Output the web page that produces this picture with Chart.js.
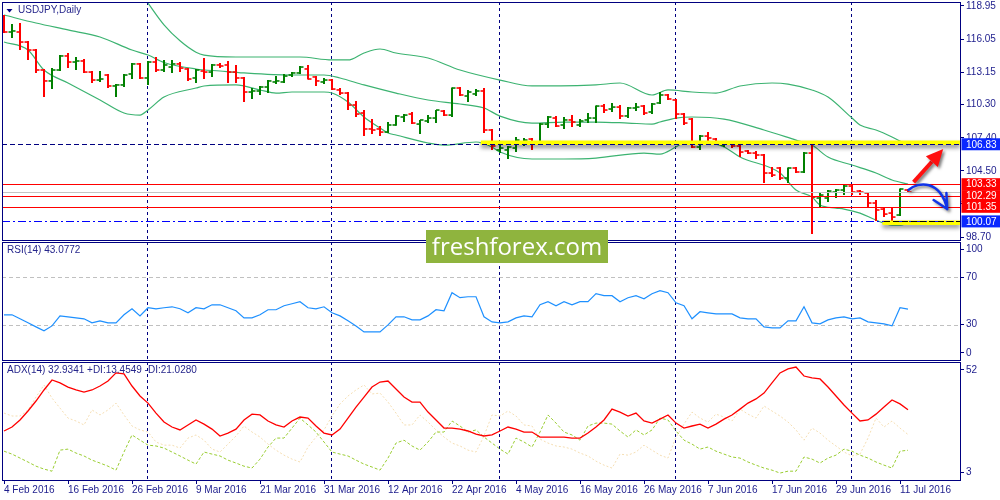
<!DOCTYPE html>
<html>
<head>
<meta charset="utf-8">
<title>USDJPY Daily</title>
<script src="https://cdn.jsdelivr.net/npm/chart.js@4.4.1/dist/chart.umd.min.js"></script>
<style>
  html, body { margin: 0; padding: 0; background: #fff; }
  #wrap { position: relative; width: 1000px; height: 500px; overflow: hidden; }
  #wrap canvas { position: absolute; left: 0; }
  #wm { position: absolute; left: 426px; top: 230px; width: 182px; height: 33px; background: #8fb43e;
        color: #fff; font: 24px 'Open Sans', sans-serif; line-height: 32px; text-align: center; }
</style>
</head>
<body>
<div id="wrap">
  <canvas id="pricePane" width="1000" height="242" style="top:0"></canvas>
  <canvas id="rsiPane" width="1000" height="121" style="top:241px"></canvas>
  <canvas id="adxPane" width="1000" height="139" style="top:361px"></canvas>
  <div id="wm">freshforex.com</div>
</div>
<script>
// one label every 8 daily bars, first bar = 4 Feb 2016
const dates = ['4 Feb 2016', '16 Feb 2016', '26 Feb 2016', '9 Mar 2016', '21 Mar 2016', '31 Mar 2016',
  '12 Apr 2016', '22 Apr 2016', '4 May 2016', '16 May 2016', '26 May 2016', '7 Jun 2016',
  '17 Jun 2016', '29 Jun 2016', '11 Jul 2016'];
const monthStarts = [18, 41, 62, 84, 106];

const open = [117.02, 116.67, 116.67, 115.79, 115.09, 113.34, 112.38, 113.34, 114.57, 114.04,
  114.13, 113.16, 112.46, 112.90, 111.94, 112.03, 112.99, 113.87, 112.64, 114.04,
  113.34, 113.60, 113.87, 113.43, 112.64, 113.25, 113.16, 113.78, 113.78, 113.16,
  112.64, 111.41, 111.50, 111.85, 112.29, 112.29, 112.90, 113.08, 113.43, 112.73,
  112.29, 112.46, 111.59, 111.32, 110.27, 109.57, 108.17, 108.17, 107.90, 108.52,
  109.22, 109.48, 108.60, 108.87, 109.13, 109.74, 109.39, 111.76, 111.06, 111.24,
  111.50, 108.08, 106.33, 106.33, 106.50, 107.03, 107.29, 107.03, 108.60, 109.13,
  108.52, 108.96, 108.52, 108.96, 109.13, 110.18, 109.92, 110.09, 109.31, 110.01,
  110.18, 109.66, 110.45, 111.15, 110.71, 109.48, 109.04, 106.59, 107.55, 107.29,
  106.76, 106.94, 106.68, 106.24, 106.06, 105.89, 104.31, 104.75, 103.87, 104.75,
  104.40, 106.06, 102.12, 102.12, 102.64, 102.82, 103.17, 102.73, 102.56, 101.68,
  101.15, 100.80, 100.63, 102.82];
const high = [118.16, 117.37, 117.46, 115.88, 115.18, 113.43, 113.51, 114.65, 114.83, 114.48,
  114.30, 113.25, 113.25, 112.99, 112.11, 112.99, 113.95, 113.95, 114.13, 114.48,
  114.22, 114.22, 114.04, 113.51, 113.43, 114.39, 113.87, 113.95, 114.13, 113.78,
  112.73, 111.76, 111.94, 112.46, 112.81, 112.99, 113.16, 113.69, 113.78, 112.81,
  112.64, 112.55, 111.76, 111.41, 110.62, 109.83, 109.04, 108.43, 108.78, 109.39,
  109.48, 109.66, 108.96, 109.39, 109.83, 109.83, 111.80, 111.85, 111.59, 111.67,
  111.76, 108.17, 106.76, 106.68, 107.47, 107.38, 107.38, 108.69, 109.31, 109.31,
  109.22, 109.39, 109.04, 109.57, 110.22, 110.36, 110.45, 110.27, 110.09, 110.45,
  110.27, 110.45, 111.41, 111.24, 110.80, 109.57, 109.13, 107.64, 107.90, 107.38,
  107.11, 107.03, 106.94, 106.33, 106.24, 105.97, 104.84, 104.84, 104.80, 104.84,
  106.15, 106.94, 102.56, 102.82, 102.91, 103.26, 103.34, 102.82, 102.64, 101.94,
  101.33, 101.33, 102.95, 102.91];
const low = [116.58, 116.14, 115.09, 114.22, 113.08, 110.97, 111.67, 113.25, 113.51, 113.34,
  113.08, 112.20, 112.29, 111.76, 110.97, 111.85, 112.55, 112.55, 112.03, 113.16,
  113.16, 113.08, 113.16, 112.38, 112.20, 112.55, 112.73, 113.51, 112.20, 112.20,
  110.53, 110.80, 111.15, 111.32, 112.11, 112.20, 112.73, 113.00, 112.50, 111.94,
  112.11, 111.59, 111.15, 109.83, 109.22, 107.55, 107.73, 107.55, 107.82, 108.45,
  108.78, 108.60, 107.73, 108.69, 108.69, 109.31, 109.22, 111.06, 110.53, 111.06,
  107.82, 106.33, 106.06, 105.54, 106.15, 106.68, 106.33, 107.00, 108.25, 108.34,
  108.17, 108.34, 108.34, 108.69, 108.69, 109.57, 109.66, 109.04, 109.13, 109.74,
  109.39, 109.48, 110.36, 110.71, 109.04, 108.52, 106.50, 106.33, 107.11, 106.76,
  106.59, 106.50, 105.71, 105.97, 105.54, 103.43, 103.96, 103.70, 103.43, 104.31,
  104.31, 98.96, 101.33, 101.77, 102.12, 102.38, 102.38, 102.38, 101.33, 100.10,
  100.45, 100.01, 100.54, 102.56];
const close = [116.67, 116.76, 115.79, 115.09, 113.34, 112.38, 113.34, 114.57, 114.04, 114.13,
  113.16, 112.46, 112.55, 111.94, 112.03, 112.90, 113.87, 112.64, 114.04, 113.34,
  113.78, 113.87, 113.51, 112.55, 113.34, 113.16, 113.78, 113.69, 113.16, 112.64,
  111.41, 111.50, 111.85, 112.38, 112.38, 112.81, 113.08, 113.60, 112.55, 112.38,
  112.46, 111.67, 111.32, 110.27, 109.48, 108.17, 108.08, 107.90, 108.52, 109.31,
  109.39, 108.69, 108.96, 109.13, 109.83, 109.39, 111.76, 111.15, 111.41, 111.50,
  108.08, 106.68, 106.50, 106.59, 107.20, 107.20, 107.03, 108.60, 109.22, 108.43,
  108.96, 108.78, 108.87, 109.13, 110.18, 109.83, 110.09, 109.31, 110.01, 110.09,
  109.57, 110.36, 111.15, 110.80, 109.48, 108.69, 106.59, 107.55, 107.38, 107.03,
  107.03, 106.68, 106.15, 106.06, 105.89, 104.31, 104.13, 103.87, 104.75, 104.40,
  106.06, 102.20, 102.38, 102.73, 102.82, 103.17, 102.64, 102.64, 101.68, 101.07,
  100.71, 100.45, 102.91, 102.64];

// Bollinger bands as [bar, price]
const bbUpper = [[18, 119.2], [20, 117.3], [22, 115.9], [24, 114.9], [25, 114.65], [29, 114.48],
  [37, 114.48], [41, 114.22], [43, 114.22], [45, 114.83], [47, 115.18], [49, 114.83], [53, 114.39],
  [57, 113.34], [62, 112.46], [66, 111.94], [74, 112.03], [77, 112.2], [81, 111.15], [83, 111.59],
  [86, 111.41], [89, 111.32], [92, 111.94], [96, 112.2], [98, 112.11], [101, 111.59], [103, 110.97],
  [106, 109.13], [107, 108.52], [109, 108.08], [111, 107.47], [113, 106.76]];
const bbMiddle = [[0, 118.16], [4, 117.46], [8, 116.85], [12, 116.23], [16, 115.09], [18, 114.65],
  [20, 114.0], [24, 113.43], [27, 113.25], [30, 113.08], [36, 112.9], [40, 112.9], [42, 112.64],
  [45, 112.03], [49, 111.32], [53, 110.71], [57, 110.36], [60, 110.01], [62, 109.3], [66, 108.69],
  [70, 108.78], [74, 108.78], [78, 108.69], [81, 108.6], [82, 108.78], [84, 109.13], [86, 109.22],
  [90, 109.04], [95, 108.08], [99, 107.2], [101, 106.76], [103, 105.71], [106, 105.01], [109, 104.31],
  [111, 103.7], [113, 103.34]];
const bbLower = [[0, 115.79], [3, 115.09], [5, 113.34], [8, 112.2], [12, 110.71], [15, 109.57],
  [17, 109.39], [18, 109.83], [20, 110.97], [24, 111.76], [25, 111.94], [29, 112.03], [32, 111.59],
  [34, 111.32], [36, 111.41], [40, 111.41], [41, 111.32], [43, 110.53], [45, 109.22], [47, 108.25],
  [48, 107.82], [49, 107.64], [53, 106.94], [55, 106.76], [59, 107.03], [61, 106.59], [62, 106.15],
  [66, 105.54], [70, 105.54], [74, 105.62], [80, 106.06], [82, 105.97], [84, 106.59], [85, 106.94],
  [88, 106.94], [90, 106.59], [92, 105.71], [97, 104.31], [99, 102.82], [101, 102.2], [102, 101.5],
  [104, 101.24], [105, 101.15], [107, 100.8], [109, 100.19], [111, 99.75], [112, 99.75], [113, 99.93]];

const priceTicks = [118.95, 116.05, 113.15, 110.30, 107.40, 104.50, 101.60, 98.70];
const levels = [106.83, 103.33, 102.29, 101.35, 100.07];
const bidPrice = 102.64;

const rsi = [38.3, 38.3, 34.9, 31.5, 28.1, 24.7, 28.9, 37.4, 36.6, 35.7,
  34.9, 31.5, 33.2, 31.5, 31.5, 38.3, 43.4, 37.4, 44.3, 43.4,
  44.3, 45.1, 43.4, 40.0, 44.3, 43.4, 46.8, 46.8, 44.3, 41.7,
  35.7, 35.7, 38.3, 42.6, 42.6, 46.0, 47.7, 49.4, 44.3, 43.4,
  45.1, 40.0, 37.4, 33.2, 28.9, 23.8, 23.8, 23.8, 29.8, 36.6,
  36.6, 34.0, 34.0, 37.4, 42.6, 41.7, 57.0, 52.8, 53.6, 53.6,
  36.6, 32.3, 31.5, 32.3, 35.7, 37.4, 36.6, 46.8, 49.4, 46.0,
  49.4, 46.8, 49.4, 49.4, 56.2, 54.5, 54.5, 49.4, 52.8, 54.5,
  51.9, 56.2, 58.7, 57.0, 48.5, 46.0, 34.9, 40.9, 40.0, 39.1,
  39.1, 39.1, 35.7, 34.9, 34.9, 28.1, 27.2, 27.2, 33.2, 33.2,
  45.1, 31.5, 30.6, 34.0, 35.7, 36.6, 34.9, 35.7, 32.3, 31.5,
  30.6, 28.9, 44.3, 43.08];
const rsiTicks = [100, 70, 30, 0];
const rsiLevels = [70, 30];

const adx = [22.7, 24.6, 28.0, 32.3, 37.1, 42.4, 47.2, 45.8, 43.8, 42.4,
  41.4, 42.4, 44.3, 46.7, 50.6, 50.1, 44.3, 39.5, 36.1, 31.3,
  27.0, 24.6, 23.2, 25.6, 28.0, 26.0, 23.6, 20.3, 21.7, 23.6,
  28.0, 30.8, 30.4, 27.5, 25.6, 24.6, 27.5, 29.4, 28.9, 25.1,
  21.7, 20.8, 23.6, 28.9, 34.2, 39.0, 43.8, 46.2, 46.7, 42.9,
  39.0, 36.6, 36.6, 31.8, 28.0, 24.1, 24.1, 23.6, 22.7, 21.2,
  20.3, 20.8, 22.7, 24.6, 23.6, 22.2, 22.2, 19.8, 19.8, 19.8,
  19.8, 19.3, 19.3, 21.7, 24.6, 28.0, 33.2, 31.8, 29.9, 31.3,
  27.5, 26.5, 28.4, 30.4, 26.5, 24.1, 25.1, 26.0, 24.1, 26.0,
  28.4, 30.4, 33.2, 36.1, 38.1, 40.9, 45.8, 50.6, 52.5, 53.4,
  49.1, 48.2, 47.7, 43.8, 39.5, 35.2, 31.3, 27.5, 28.0, 30.8,
  34.2, 37.6, 35.7, 32.93];
const plusDI = [13.0, 11.6, 9.7, 7.8, 5.8, 4.4, 3.4, 13.5, 14.0, 12.1,
  10.7, 8.7, 7.3, 5.8, 3.9, 12.6, 20.8, 18.3, 15.9, 15.5,
  14.5, 12.6, 10.7, 8.7, 6.8, 12.6, 11.6, 10.7, 8.7, 7.3,
  5.8, 4.9, 9.2, 15.0, 19.3, 19.3, 24.1, 28.9, 25.6, 22.2,
  17.4, 12.6, 11.6, 10.7, 8.7, 6.8, 5.4, 3.9, 9.7, 16.9,
  18.3, 15.5, 13.5, 17.4, 22.2, 22.2, 27.5, 25.1, 22.2, 23.2,
  19.8, 16.9, 14.0, 11.6, 19.3, 17.4, 15.0, 22.2, 30.4, 26.5,
  22.2, 20.8, 18.3, 25.1, 26.5, 26.5, 26.0, 22.7, 19.8, 23.2,
  20.8, 23.2, 28.9, 28.0, 22.7, 18.3, 16.4, 14.0, 15.0, 13.0,
  11.6, 10.2, 9.7, 7.8, 6.3, 4.9, 3.9, 2.5, 3.4, 3.4,
  10.2, 9.2, 7.3, 9.7, 11.1, 14.0, 13.0, 11.1, 9.7, 7.8,
  6.3, 4.9, 13.0, 13.45];
const minusDI = [31.3, 29.9, 29.9, 32.8, 39.0, 44.8, 38.5, 33.7, 28.9, 27.5,
  25.6, 32.8, 30.4, 32.8, 36.1, 30.4, 25.1, 23.2, 22.2, 17.4,
  15.9, 15.9, 14.5, 19.3, 20.8, 18.3, 14.0, 12.6, 16.4, 20.3,
  25.1, 22.2, 19.8, 16.4, 13.5, 11.1, 9.2, 7.8, 15.0, 19.8,
  23.2, 29.9, 35.7, 39.5, 42.4, 44.8, 40.5, 40.9, 36.6, 31.3,
  25.6, 25.6, 30.4, 27.0, 23.2, 19.8, 16.9, 15.5, 13.5, 12.6,
  20.3, 30.4, 29.9, 32.3, 29.9, 25.6, 25.1, 18.8, 16.9, 15.5,
  15.0, 14.0, 12.1, 10.7, 8.2, 6.3, 4.9, 11.6, 11.1, 12.6,
  15.9, 13.5, 11.1, 9.7, 19.8, 26.0, 31.8, 28.9, 27.0, 30.8,
  29.4, 27.5, 33.2, 30.8, 28.9, 34.7, 32.3, 29.9, 27.0, 23.2,
  18.3, 24.1, 21.7, 18.3, 15.5, 12.6, 10.7, 11.6, 19.3, 28.9,
  24.6, 27.5, 24.1, 21.03];
const adxTicks = [52, 3];

const NAVY = '#000080';
const AXIS_TEXT = '#1c1c8c';
const UP = '#008000', DOWN = '#ff0000', BAND = '#3cb371';
const FAMILY = "'Liberation Sans', Arial, sans-serif";
const FONT = { family: FAMILY, size: 10 };
// 8 px per bar, bar 0 centred on x = 4
const X_MIN = -0.25, X_MAX = 119.5;

Chart.defaults.font.family = FAMILY;
Chart.defaults.font.size = 10;
Chart.defaults.color = AXIS_TEXT;
Chart.defaults.animation = false;
Chart.defaults.events = [];
Chart.defaults.layout.autoPadding = false;
Chart.defaults.plugins.legend.display = false;
Chart.defaults.plugins.tooltip.enabled = false;

function xAxis(show) {
  const axis = {
    type: 'linear', min: X_MIN, max: X_MAX, offset: false, display: show,
    afterBuildTicks: s => { s.ticks = dates.map((d, k) => ({ value: k * 8 })); },
    ticks: { align: 'start', autoSkip: false, maxRotation: 0, minRotation: 0, padding: 0,
      color: AXIS_TEXT, font: FONT, callback: (v, i) => dates[i] },
    grid: { drawOnChartArea: false, color: NAVY, tickLength: 4 },
    border: { display: false }
  };
  if (show) axis.afterFit = s => { s.height = 20; s.paddingLeft = 0; s.paddingRight = 0; };
  return axis;
}

function yAxis(min, max, values, label) {
  return {
    position: 'right', min, max,
    afterBuildTicks: s => { s.ticks = values.map(v => ({ value: v })); },
    afterFit: s => { s.width = 40; s.paddingTop = 0; s.paddingBottom = 0; },
    ticks: { autoSkip: false, padding: 2, color: AXIS_TEXT, font: FONT, callback: label },
    grid: { drawOnChartArea: false, color: NAVY, tickLength: 4 },
    border: { color: NAVY, width: 1 }
  };
}

const xy = arr => arr.map((v, i) => ({ x: i, y: v }));

// frame, month separators and pane caption
const paneFrame = {
  id: 'paneFrame',
  beforeDatasetsDraw(chart) {
    const { ctx, chartArea: a, scales: { x } } = chart;
    ctx.save();
    ctx.strokeStyle = NAVY;
    ctx.lineWidth = 1;
    ctx.setLineDash([3, 3]);
    monthStarts.forEach(m => {
      const px = x.getPixelForValue(m) - 0.5;
      ctx.beginPath();
      ctx.moveTo(px, a.top);
      ctx.lineTo(px, a.bottom);
      ctx.stroke();
    });
    ctx.restore();
  },
  afterDraw(chart, args, opts) {
    const { ctx, chartArea: a } = chart;
    const l = Math.round(a.left) + 0.5, t = Math.round(a.top) + 0.5;
    const r = Math.round(a.right) + 0.5, b = Math.round(a.bottom) + 0.5;
    ctx.save();
    ctx.strokeStyle = NAVY;
    ctx.lineWidth = 1;
    ctx.strokeRect(l, t, r - l, b - t);
    ctx.fillStyle = '#26268c';
    ctx.font = '10px ' + FAMILY;
    ctx.textBaseline = 'middle';
    let tx = a.left + 5;
    if (opts.marker) {
      ctx.beginPath();
      ctx.moveTo(a.left + 4.5, a.top + 7);
      ctx.lineTo(a.left + 10.5, a.top + 7);
      ctx.lineTo(a.left + 7.5, a.top + 10.5);
      ctx.closePath();
      ctx.fillStyle = NAVY;
      ctx.fill();
      ctx.fillStyle = '#26268c';
      tx = a.left + 16;
    }
    ctx.fillText(opts.title, tx, a.top + 8.5);
    ctx.restore();
  }
};

// horizontal levels, highlighted zones, arrows and level price tags
const priceObjects = {
  id: 'priceObjects',
  afterDatasetsDraw(chart, args, opts) {
    const { ctx, chartArea: a, scales: { x, y } } = chart;
    const px = v => x.getPixelForValue(v);
    const py = v => Math.round(y.getPixelForValue(v)) + 0.5;
    const styles = [
      { color: NAVY, dash: [5, 3], tag: '#0a28ff' },
      { color: '#ff0000', dash: [], tag: '#ff0000' },
      { color: '#ff0000', dash: [], tag: '#ff0000' },
      { color: '#ff0000', dash: [], tag: '#ff0000' },
      { color: '#0000ff', dash: [8, 3, 2, 3], tag: '#0a28ff' }
    ];
    const hline = (v, color, dash, from) => {
      ctx.beginPath();
      ctx.setLineDash(dash);
      ctx.strokeStyle = color;
      ctx.lineWidth = 1;
      ctx.moveTo(from === undefined ? a.left : px(from), py(v));
      ctx.lineTo(a.right, py(v));
      ctx.stroke();
    };
    ctx.save();
    ctx.beginPath();
    ctx.rect(a.left, a.top, a.right - a.left, a.bottom - a.top);
    ctx.clip();

    opts.zones.forEach(z => {
      const left = px(z.from);
      ctx.save();
      ctx.shadowColor = 'rgba(0,0,0,0.45)';
      ctx.shadowBlur = 4;
      ctx.shadowOffsetY = 3;
      ctx.fillStyle = '#ffff00';
      ctx.fillRect(left, py(levels[z.level]) + z.shift, a.right - left, 4.5);
      ctx.restore();
    });

    hline(bidPrice, '#c4c4c4', []);
    levels.forEach((v, i) => hline(v, styles[i].color, styles[i].dash));
    hline(levels[4], '#000000', [6, 3], opts.zones[1].from + 0.2);

    // red arrow
    const [r0, r1] = opts.upArrow;
    const x0 = px(r0[0]), y0 = y.getPixelForValue(r0[1]);
    const x1 = px(r1[0]), y1 = y.getPixelForValue(r1[1]);
    const ang = Math.atan2(y1 - y0, x1 - x0);
    const bx = x1 - Math.cos(ang) * 17, by = y1 - Math.sin(ang) * 17;
    ctx.save();
    ctx.setLineDash([]);
    ctx.shadowColor = 'rgba(0,0,0,0.5)';
    ctx.shadowBlur = 3;
    ctx.shadowOffsetX = 2;
    ctx.shadowOffsetY = 2;
    ctx.strokeStyle = '#ff1010';
    ctx.fillStyle = '#ff1010';
    ctx.lineWidth = 4;
    ctx.beginPath();
    ctx.moveTo(x0, y0);
    ctx.lineTo(bx, by);
    ctx.stroke();
    ctx.beginPath();
    ctx.moveTo(x1, y1);
    ctx.lineTo(bx + Math.sin(ang) * 8, by - Math.cos(ang) * 8);
    ctx.lineTo(bx - Math.sin(ang) * 8, by + Math.cos(ang) * 8);
    ctx.closePath();
    ctx.fill();

    // blue curved arrow
    const c = opts.downArrow.map(p => [px(p[0]), y.getPixelForValue(p[1])]);
    ctx.strokeStyle = '#1034e8';
    ctx.lineWidth = 2.5;
    ctx.lineCap = 'round';
    ctx.beginPath();
    ctx.moveTo(c[0][0], c[0][1]);
    ctx.bezierCurveTo(c[1][0], c[1][1], c[2][0], c[2][1], c[3][0], c[3][1]);
    ctx.moveTo(c[3][0], c[3][1]);
    ctx.lineTo(c[4][0], c[4][1]);
    ctx.moveTo(c[3][0], c[3][1]);
    ctx.lineTo(c[5][0], c[5][1]);
    ctx.stroke();
    ctx.restore();
    ctx.restore();

    // price tags on the axis
    ctx.save();
    ctx.font = '10px ' + FAMILY;
    ctx.textBaseline = 'middle';
    levels.forEach((v, i) => {
      const cy = y.getPixelForValue(v);
      ctx.fillStyle = styles[i].tag;
      ctx.fillRect(a.right + 1.5, cy - 6, 40, 12);
      ctx.fillStyle = '#ffffff';
      ctx.fillText(v.toFixed(2), a.right + 6, cy + 0.5);
    });
    ctx.restore();
  }
};

const levelLines = {
  id: 'levelLines',
  beforeDatasetsDraw(chart) {
    const { ctx, chartArea: a, scales: { y } } = chart;
    ctx.save();
    ctx.strokeStyle = '#c0c0c0';
    ctx.lineWidth = 1;
    ctx.setLineDash([4, 3]);
    rsiLevels.forEach(v => {
      const py = Math.round(y.getPixelForValue(v)) + 0.5;
      ctx.beginPath();
      ctx.moveTo(a.left, py);
      ctx.lineTo(a.right, py);
      ctx.stroke();
    });
    ctx.restore();
  }
};

const bars = open.map((_, i) => i);
const barColor = c => close[c.dataIndex] >= open[c.dataIndex] ? UP : DOWN;
const band = pts => ({
  type: 'line', data: pts.map(([x, y]) => ({ x, y })), borderColor: BAND, borderWidth: 1.2,
  pointRadius: 0, cubicInterpolationMode: 'monotone'
});

new Chart(document.getElementById('pricePane'), {
  type: 'line',
  data: {
    datasets: [
      { type: 'scatter', data: bars.map(i => ({ x: i, y: open[i] })), pointStyle: 'dash',
        pointRotation: 180, pointRadius: 3.5, pointBorderWidth: 1.6, pointBorderColor: barColor },
      { type: 'scatter', data: bars.map(i => ({ x: i, y: close[i] })), pointStyle: 'dash',
        pointRotation: 0, pointRadius: 3.5, pointBorderWidth: 1.6, pointBorderColor: barColor },
      { type: 'bar', data: bars.map(i => ({ x: i, y: [low[i], high[i]] })), backgroundColor: barColor,
        barThickness: 2, grouped: false, inflateAmount: 0 },
      band(bbUpper),
      band(bbMiddle),
      band(bbLower)
    ]
  },
  options: {
    responsive: false,
    layout: { padding: { left: 2, right: 0, top: 2, bottom: 2 } },
    scales: { x: xAxis(false), y: yAxis(98.44, 119.30, priceTicks, v => v.toFixed(2)) },
    plugins: {
      paneFrame: { title: 'USDJPY,Daily', marker: true },
      priceObjects: {
        zones: [{ level: 0, from: 59.6, shift: -4 }, { level: 4, from: 109.8, shift: -1 }],
        upArrow: [[113.7, 103.52], [117.4, 106.41]],
        downArrow: [[113.06, 102.82], [114.3, 103.61], [117.06, 103.7], [117.9, 101.15],
          [117.8, 102.56], [116.2, 101.94]]
      }
    }
  },
  plugins: [paneFrame, priceObjects]
});

new Chart(document.getElementById('rsiPane'), {
  type: 'line',
  data: {
    datasets: [{ data: xy(rsi), borderColor: '#1e90ff', borderWidth: 1.2, pointRadius: 0 }]
  },
  options: {
    responsive: false,
    layout: { padding: { left: 2, right: 0, top: 1, bottom: 2 } },
    scales: {
      x: xAxis(false),
      // edge labels are kept inside the pane, as the terminal draws them
      y: yAxis(0, 100, rsiTicks.map(v => Math.min(94, Math.max(6, v))), (v, i) => String(rsiTicks[i]))
    },
    plugins: { paneFrame: { title: 'RSI(14) 43.0772' } }
  },
  plugins: [paneFrame, levelLines]
});

new Chart(document.getElementById('adxPane'), {
  type: 'line',
  data: {
    datasets: [
      { data: xy(adx), borderColor: '#ff0000', borderWidth: 1.3, pointRadius: 0 },
      { data: xy(plusDI), borderColor: '#9acd32', borderWidth: 1, borderDash: [3, 2], pointRadius: 0 },
      { data: xy(minusDI), borderColor: '#f5deb3', borderWidth: 1, borderDash: [2, 2], pointRadius: 0 }
    ]
  },
  options: {
    responsive: false,
    layout: { padding: { left: 2, right: 0, top: 1, bottom: 0 } },
    scales: { x: xAxis(true), y: yAxis(-0.84, 55.84, adxTicks, v => String(v)) },
    plugins: { paneFrame: { title: 'ADX(14) 32.9341 +DI:13.4549 -DI:21.0280' } }
  },
  plugins: [paneFrame]
});
</script>
</body>
</html>
